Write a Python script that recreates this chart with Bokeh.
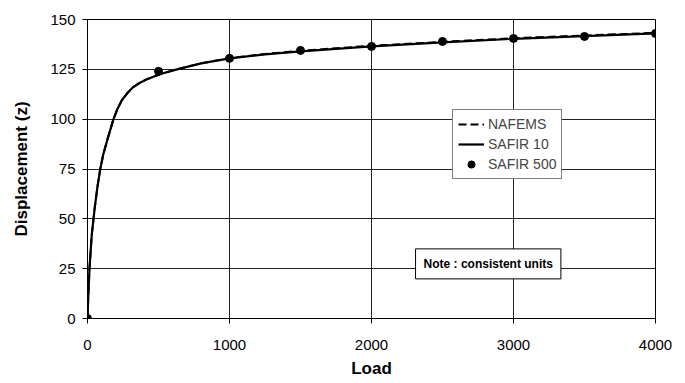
from bokeh.plotting import figure
from bokeh.models import Range1d, FixedTicker, Legend, LegendItem, Label
from bokeh.embed import file_html
from bokeh.resources import INLINE

# Data
curve_load = [0, 6, 14, 30, 50, 70, 90, 110, 141, 183, 210, 242, 280, 320, 370, 418, 520, 630, 800, 1000, 1250, 1500, 1750, 2000, 2500, 3000, 3500, 4000]
safir10_disp = [0, 12, 25, 42, 55, 66, 75, 82, 90, 100, 105, 109.5, 113, 116, 118.3, 120, 122.8, 125, 128, 130.5, 132.5, 134, 135.3, 136.5, 138.5, 140.3, 141.7, 143]
nafems_disp = [0, 12, 25, 42, 55, 66, 75, 82, 90, 100, 105, 109.5, 113, 116, 118.3, 120, 122.8, 125, 128, 130.6, 132.7, 134.3, 135.6, 136.8, 138.8, 140.6, 142.0, 143.3]
safir500_load = [0, 500, 1000, 1500, 2000, 2500, 3000, 3500, 4000]
safir500_disp = [0, 124, 130.5, 134.5, 136.5, 139, 140.5, 141.5, 143]
x_ticks = [0, 1000, 2000, 3000, 4000]
y_ticks = [0, 25, 50, 75, 100, 125, 150]

W, H = 684, 382
p = figure(width=W, height=H, output_backend="svg", toolbar_location=None,
           x_range=Range1d(0, 4000), y_range=Range1d(0, 150),
           min_border_left=87, min_border_right=W - 655, min_border_top=19, min_border_bottom=H - 318)

p.outline_line_color = "black"
p.outline_line_width = 1
p.background_fill_color = "white"
p.border_fill_color = "white"

for ax in (p.xaxis, p.yaxis):
    ax.axis_line_color = "black"
    ax.major_tick_line_color = "black"
    ax.minor_tick_line_color = None
    ax.major_tick_in = 0
    ax.major_tick_out = 5
    ax.major_label_text_font = "Liberation Sans"
    ax.major_label_text_font_size = "15px"
    ax.major_label_text_color = "black"
    ax.axis_label_text_font = "Liberation Sans"
    ax.axis_label_text_font_style = "bold"
    ax.axis_label_text_font_size = "17px"
    ax.axis_label_text_color = "black"

p.xaxis.ticker = FixedTicker(ticks=x_ticks)
p.yaxis.ticker = FixedTicker(ticks=y_ticks)
p.xaxis.major_label_standoff = 16
p.yaxis.major_label_standoff = 7
p.xaxis.axis_label = "Load"
p.yaxis.axis_label = "Displacement (z)"
p.xaxis.axis_label_standoff = 6
p.yaxis.axis_label_standoff = 16

p.xgrid.ticker = FixedTicker(ticks=x_ticks)
p.ygrid.ticker = FixedTicker(ticks=y_ticks)
p.grid.grid_line_color = "#222222"
p.grid.grid_line_width = 1
p.grid.grid_line_alpha = 1

r_s10 = p.line(curve_load, safir10_disp, line_color="black", line_width=2.2)
r_naf = p.line(curve_load, nafems_disp, line_color="black", line_width=2, line_dash="8 4")
r_s500 = p.scatter(safir500_load, safir500_disp, size=8, color="black")

legend = Legend(items=[LegendItem(label="NAFEMS", renderers=[r_naf]),
                       LegendItem(label="SAFIR 10", renderers=[r_s10]),
                       LegendItem(label="SAFIR 500", renderers=[r_s500])],
                location=(365, 139))
legend.label_text_font = "Liberation Sans"
legend.label_text_font_size = "14px"
legend.label_height = 18
legend.glyph_height = 18
legend.glyph_width = 26
legend.spacing = 2
legend.padding = 5
legend.margin = 0
legend.label_standoff = 4
legend.border_line_color = "black"
legend.border_line_width = 1
legend.background_fill_color = "white"
legend.background_fill_alpha = 1
p.add_layout(legend, "center")

note = Label(x=2822, y=27.4, text="Note : consistent units", text_align="center",
             text_baseline="middle", text_font="Liberation Sans", text_font_style="bold",
             text_font_size="12px", text_color="black",
             background_fill_color="white", border_line_color="black", border_line_width=1,
             padding=8)
p.add_layout(note)

open("out.html", "w").write(file_html(p, INLINE))
